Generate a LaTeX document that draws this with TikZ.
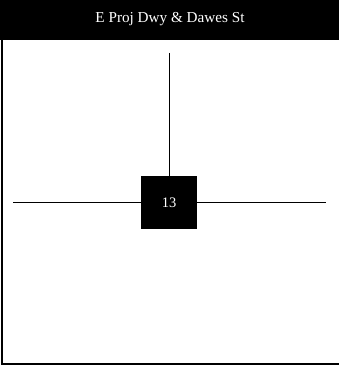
\documentclass[tikz,border=0pt]{standalone}
\usepackage{fontspec}
\setmainfont{Liberation Serif}
\begin{document}
\begin{tikzpicture}[x=1pt,y=1pt,
  link/.style={draw=black,line width=1pt},
  frameline/.style={draw=black,line width=2pt},
  sqbox/.style={fill=black,text=white,minimum width=56pt,minimum height=53pt,inner sep=0pt,font=\fontsize{14.5}{16}\selectfont},
  titletext/.style={text=white,inner sep=0pt,font=\fontsize{15.2}{17}\selectfont}]
\useasboundingbox (0,0) rectangle (339,366);
\fill[black] (0,326) rectangle (339,366);
\node[titletext] (title) at (170,347) {E Proj Dwy \& Dawes St};
\coordinate (tl) at (2,366);
\coordinate (bl) at (2,1.5);
\coordinate (br) at (339,1.5);
\draw[frameline] (tl) -- (bl) -- (br);
\node[sqbox] (sq) at (169,163.5) {13};
\coordinate (top) at (169,313);
\coordinate (lft) at (13,163.5);
\coordinate (rgt) at (326,163.5);
\draw[link] (top) -- (sq.north);
\draw[link] (lft) -- (sq.west);
\draw[link] (sq.east) -- (rgt);
\end{tikzpicture}
\end{document}
